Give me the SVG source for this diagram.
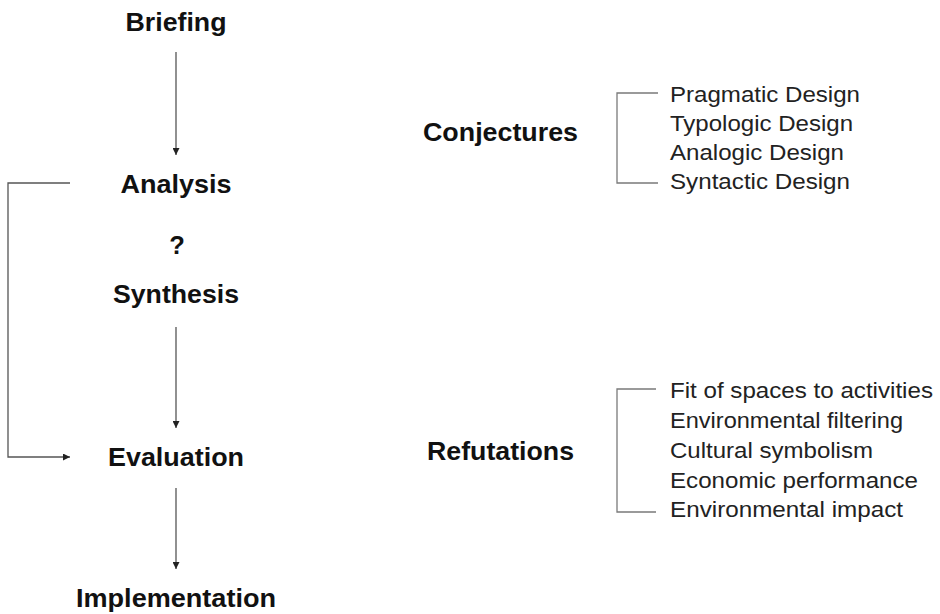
<svg xmlns="http://www.w3.org/2000/svg" width="940" height="614" viewBox="0 0 940 614">
  <style>
    .step { font-family: "Liberation Sans", Arial, sans-serif; font-weight: bold; font-size: 25.5px; fill: #111; }
    .item { font-family: "Liberation Sans", Arial, sans-serif; font-size: 22.5px; fill: #222; }
    .flow { fill: none; stroke: #555; stroke-width: 1.3; }
    .bracket { fill: none; stroke: #7a7a7a; stroke-width: 1.3; }
  </style>
  <defs>
    <marker id="arrow" markerUnits="userSpaceOnUse" markerWidth="8" markerHeight="7" refX="7" refY="3.5" orient="auto">
      <path d="M0,0 L7,3.5 L0,7 z" fill="#222"/>
    </marker>
  </defs>
  <rect width="940" height="614" fill="#fff"/>

  <!-- process steps -->
  <g id="briefing"><text class="step" x="176" y="31" text-anchor="middle" textLength="101" lengthAdjust="spacingAndGlyphs">Briefing</text></g>
  <g id="analysis"><text class="step" x="176" y="193" text-anchor="middle" textLength="111" lengthAdjust="spacingAndGlyphs">Analysis</text></g>
  <g id="question"><text class="step" x="177" y="254" text-anchor="middle">?</text></g>
  <g id="synthesis"><text class="step" x="176" y="303" text-anchor="middle" textLength="126" lengthAdjust="spacingAndGlyphs">Synthesis</text></g>
  <g id="evaluation"><text class="step" x="176" y="466" text-anchor="middle" textLength="136" lengthAdjust="spacingAndGlyphs">Evaluation</text></g>
  <g id="implementation"><text class="step" x="176" y="607" text-anchor="middle" textLength="200" lengthAdjust="spacingAndGlyphs">Implementation</text></g>

  <!-- conjectures -->
  <g id="conjectures">
    <text class="step" x="423" y="141" textLength="155" lengthAdjust="spacingAndGlyphs">Conjectures</text>
    <path class="bracket" d="M658,93 H617 V183 H658"/>
    <text class="item" x="670" y="102" textLength="190" lengthAdjust="spacingAndGlyphs">Pragmatic Design</text>
    <text class="item" x="670" y="131" textLength="183" lengthAdjust="spacingAndGlyphs">Typologic Design</text>
    <text class="item" x="670" y="160" textLength="174" lengthAdjust="spacingAndGlyphs">Analogic Design</text>
    <text class="item" x="670" y="189" textLength="180" lengthAdjust="spacingAndGlyphs">Syntactic Design</text>
  </g>

  <!-- refutations -->
  <g id="refutations">
    <text class="step" x="427" y="460" textLength="147" lengthAdjust="spacingAndGlyphs">Refutations</text>
    <path class="bracket" d="M656,389 H617 V512 H656"/>
    <text class="item" x="670" y="398" textLength="263" lengthAdjust="spacingAndGlyphs">Fit of spaces to activities</text>
    <text class="item" x="670" y="428" textLength="233" lengthAdjust="spacingAndGlyphs">Environmental filtering</text>
    <text class="item" x="670" y="458" textLength="203" lengthAdjust="spacingAndGlyphs">Cultural symbolism</text>
    <text class="item" x="670" y="488" textLength="248" lengthAdjust="spacingAndGlyphs">Economic performance</text>
    <text class="item" x="670" y="517" textLength="233" lengthAdjust="spacingAndGlyphs">Environmental impact</text>
  </g>

  <!-- connectors -->
  <g id="connectors">
    <path class="flow" d="M176,52 V155" marker-end="url(#arrow)"/>
    <path class="flow" d="M176,327 V428" marker-end="url(#arrow)"/>
    <path class="flow" d="M176,488 V569" marker-end="url(#arrow)"/>
    <path class="flow" d="M70,183 H8 V457 H70" marker-end="url(#arrow)"/>
  </g>
</svg>
